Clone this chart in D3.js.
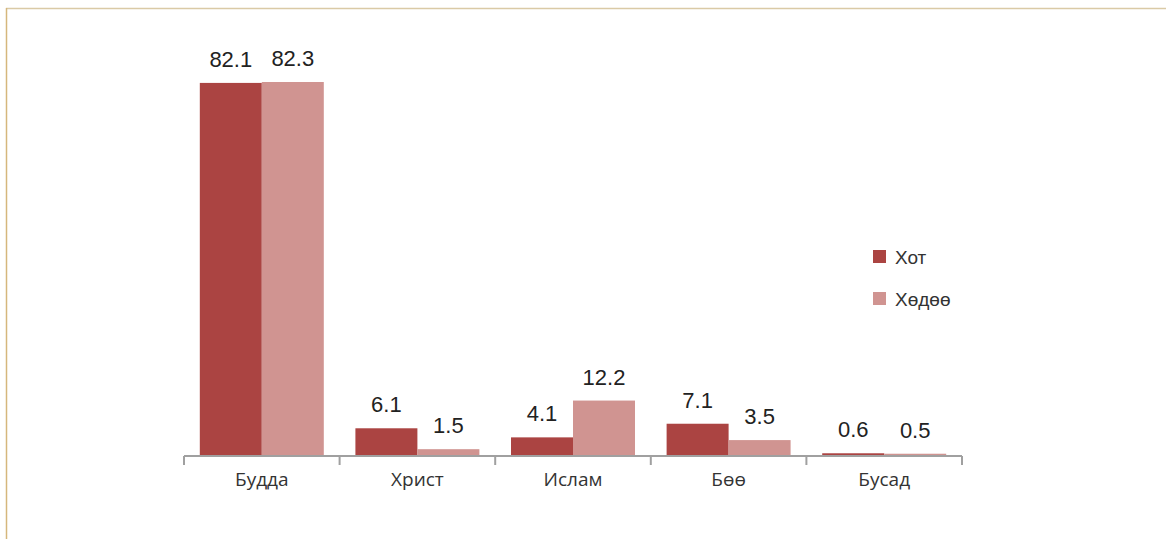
<!DOCTYPE html>
<html>
<head>
<meta charset="utf-8">
<script src="https://cdn.jsdelivr.net/npm/d3@7"></script>
<style>
  body { margin: 0; background: #fff; }
  svg { display: block; }
</style>
</head>
<body>
<div id="chart"></div>
<script>
var categories = ["Будда", "Христ", "Ислам", "Бөө", "Бусад"];
var seriesNames = ["Хот", "Хөдөө"];
var hot = [82.1, 6.1, 4.1, 7.1, 0.6];
var hodoo = [82.3, 1.5, 12.2, 3.5, 0.5];
var colors = ["#ab4442", "#d09491"];

var fullWidth = 1166, fullHeight = 539;
var base = 456;

var svg = d3.select("#chart").append("svg")
    .attr("width", fullWidth)
    .attr("height", fullHeight);

// frame lines
svg.append("line").attr("x1", 6).attr("x2", fullWidth).attr("y1", 8.5).attr("y2", 8.5)
    .attr("stroke", "#dacaa6").attr("stroke-width", 1.5);
svg.append("line").attr("x1", 6.5).attr("x2", 6.5).attr("y1", 8).attr("y2", fullHeight)
    .attr("stroke", "#d5b77c").attr("stroke-width", 1.5);

var xScale = d3.scaleBand().domain(categories).range([184, 962]).paddingInner(0).paddingOuter(0);
var inner = d3.scaleBand().domain(seriesNames).range([0, xScale.bandwidth()]).paddingOuter(0.255).paddingInner(0);
var yScale = d3.scaleLinear().domain([0, 82.3]).range([base, 82]);

var rows = categories.map(function(c, i) {
  return { cat: c, vals: [hot[i], hodoo[i]] };
});

var g = svg.selectAll("g.grp").data(rows).enter().append("g")
    .attr("class", "grp")
    .attr("transform", function(d) { return "translate(" + xScale(d.cat) + ",0)"; });

g.selectAll("rect").data(function(d) { return d.vals; }).enter().append("rect")
    .attr("x", function(d, i) { return inner(seriesNames[i]); })
    .attr("width", inner.bandwidth())
    .attr("y", function(d) { return yScale(d); })
    .attr("height", function(d) { return base - yScale(d); })
    .attr("fill", function(d, i) { return colors[i]; });

g.selectAll("text.val").data(function(d) { return d.vals; }).enter().append("text")
    .attr("class", "val")
    .attr("x", function(d, i) { return inner(seriesNames[i]) + inner.bandwidth() / 2; })
    .attr("y", function(d) { return yScale(d) - 16; })
    .attr("text-anchor", "middle")
    .style("font-family", "'Liberation Sans', Arial, sans-serif")
    .style("font-size", "22px")
    .style("fill", "#222")
    .text(function(d) { return d.toFixed(1); });

// x axis
var xAxis = d3.axisBottom(xScale).tickSize(0).tickPadding(0);
var ax = svg.append("g").attr("transform", "translate(0," + base + ")").call(xAxis);
ax.select(".domain").attr("stroke", "#a0a0a0").attr("stroke-width", 2).attr("d", "M184,0H962");
ax.selectAll(".tick text")
    .attr("y", 30)
    .attr("dy", 0)
    .style("font-family", "'Open Sans', sans-serif")
    .style("font-size", "19px")
    .style("fill", "#333");

var edges = categories.map(function(c) { return xScale(c); }).concat([xScale.range()[1]]);
ax.selectAll("line.edge").data(edges).enter().append("line")
    .attr("class", "edge")
    .attr("x1", function(d) { return d; }).attr("x2", function(d) { return d; })
    .attr("y1", 0).attr("y2", 9)
    .attr("stroke", "#a0a0a0").attr("stroke-width", 2);

// legend
var legend = svg.selectAll("g.leg").data(seriesNames).enter().append("g")
    .attr("class", "leg")
    .attr("transform", function(d, i) { return "translate(873," + (250 + i * 42) + ")"; });
legend.append("rect").attr("width", 13).attr("height", 13)
    .attr("fill", function(d, i) { return colors[i]; });
legend.append("text").attr("x", 22).attr("y", 14)
    .style("font-family", "'Liberation Sans', Arial, sans-serif")
    .style("font-size", "19px")
    .style("fill", "#333")
    .text(function(d) { return d; });
</script>
</body>
</html>
